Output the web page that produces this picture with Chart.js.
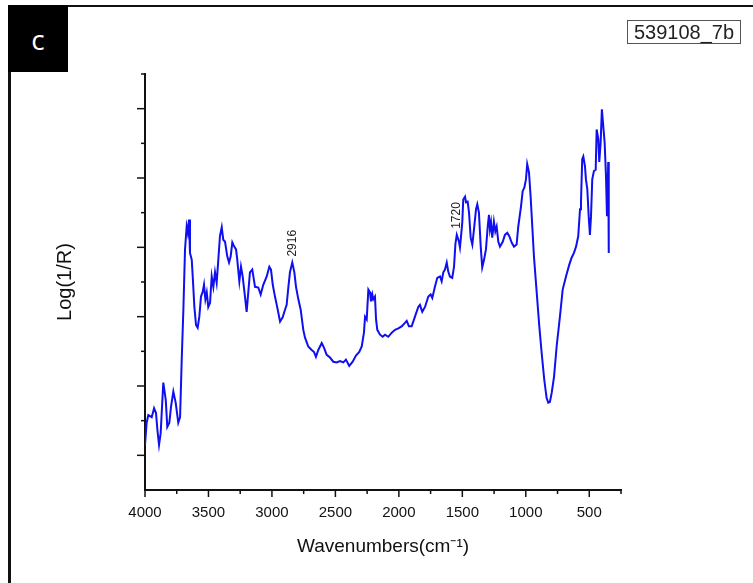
<!DOCTYPE html>
<html lang="en">
<head>
<meta charset="UTF-8">
<title>539108_7b</title>
<script src="https://cdn.jsdelivr.net/npm/chart.js"></script>
<style>
  body { margin: 0; background: #fff; }
  #wrap { position: relative; width: 753px; height: 583px; overflow: hidden; }
  #frame {
    position: absolute; left: 8px; top: 5px; width: 800px; height: 640px;
    border-top: 2px solid #111; border-left: 3px solid #111;
  }
  #panel {
    position: absolute; left: 8px; top: 5px; width: 60px; height: 67px;
    background: #000; color: #fff; font: 28px "Open Sans", sans-serif;
    display: flex; align-items: center; justify-content: center;
  }
  #sample {
    position: absolute; left: 627px; top: 20px; width: 112px; height: 22px;
    border: 1px solid #555; color: #222; text-align: center;
    font: 20px "Liberation Sans", Arial, sans-serif; line-height: 22px;
  }
  canvas { position: absolute; left: 0; top: 0; }
</style>
</head>
<body>
<div id="wrap">
  <canvas id="spectrum" width="753" height="583"></canvas>
  <div id="frame"></div>
  <div id="panel">c</div>
  <div id="sample">539108_7b</div>
</div>
<script>
// reflectance spectrum, wavenumber (cm-1) vs log(1/R)
const wavenumber = [
  3987, 3975, 3963, 3938, 3921, 3907, 3897, 3885, 3873, 3854,
  3836, 3825, 3810, 3798, 3781, 3764, 3745, 3732, 3720, 3708,
  3696, 3684, 3676, 3667, 3660, 3647, 3640, 3628, 3616, 3604,
  3592, 3580, 3567, 3558, 3548, 3538, 3527, 3514, 3502, 3490,
  3478, 3466, 3454, 3442, 3429, 3418, 3405, 3389, 3376, 3364,
  3352, 3338, 3325, 3316, 3301, 3289, 3277, 3260, 3248, 3236,
  3224, 3207, 3187, 3163, 3146, 3127, 3102, 3083, 3071, 3058,
  3042, 3029, 3005, 2986, 2969, 2957, 2945, 2933, 2916, 2901,
  2889, 2872, 2855, 2836, 2824, 2800, 2775, 2758, 2744, 2727,
  2702, 2685, 2666, 2642, 2618, 2593, 2569, 2545, 2526, 2502,
  2477, 2453, 2429, 2411, 2395, 2387, 2375, 2363, 2351, 2344,
  2334, 2327, 2315, 2307, 2298, 2278, 2259, 2242, 2218, 2193,
  2169, 2145, 2121, 2097, 2084, 2068, 2048, 2024, 2000, 1988,
  1971, 1951, 1927, 1910, 1898, 1879, 1862, 1842, 1830, 1818,
  1806, 1793, 1782, 1770, 1753, 1740, 1730, 1720, 1704, 1697,
  1690, 1680, 1673, 1660, 1653, 1641, 1631, 1619, 1607, 1595,
  1580, 1571, 1559, 1546, 1535, 1522, 1508, 1495, 1486, 1479,
  1471, 1462, 1450, 1440, 1430, 1418, 1406, 1386, 1370, 1353,
  1338, 1321, 1304, 1285, 1273, 1253, 1241, 1229, 1217, 1208,
  1195, 1183, 1171, 1159, 1139, 1120, 1103, 1084, 1067, 1055,
  1043, 1030, 1013, 994, 970, 950, 926, 902, 885, 868,
  853, 837, 824, 817, 808, 800, 788, 781, 771, 761,
  752, 744, 735, 723, 710, 703, 691, 684, 674, 665,
  655, 645, 635, 628, 623, 619, 615
];
const logInvR = [
  0.115, 0.147, 0.158, 0.155, 0.168, 0.161, 0.137, 0.115, 0.132, 0.205,
  0.180, 0.141, 0.147, 0.170, 0.192, 0.176, 0.147, 0.155, 0.238, 0.310,
  0.397, 0.430, 0.421, 0.440, 0.392, 0.382, 0.358, 0.314, 0.288, 0.284,
  0.300, 0.329, 0.336, 0.346, 0.325, 0.335, 0.314, 0.320, 0.358, 0.343,
  0.364, 0.349, 0.382, 0.416, 0.429, 0.411, 0.408, 0.387, 0.378, 0.387,
  0.407, 0.401, 0.397, 0.382, 0.351, 0.372, 0.358, 0.329, 0.307, 0.335,
  0.364, 0.368, 0.343, 0.342, 0.332, 0.346, 0.358, 0.372, 0.368, 0.346,
  0.329, 0.317, 0.293, 0.299, 0.310, 0.317, 0.342, 0.364, 0.378, 0.364,
  0.343, 0.325, 0.310, 0.281, 0.270, 0.257, 0.252, 0.249, 0.242, 0.252,
  0.262, 0.255, 0.245, 0.241, 0.235, 0.234, 0.236, 0.234, 0.238, 0.229,
  0.235, 0.244, 0.249, 0.257, 0.277, 0.300, 0.296, 0.339, 0.335, 0.322,
  0.332, 0.325, 0.329, 0.296, 0.281, 0.274, 0.271, 0.274, 0.271, 0.277,
  0.281, 0.283, 0.286, 0.291, 0.294, 0.286, 0.286, 0.300, 0.314, 0.317,
  0.307, 0.314, 0.329, 0.332, 0.327, 0.343, 0.356, 0.358, 0.351, 0.364,
  0.368, 0.378, 0.365, 0.358, 0.356, 0.372, 0.405, 0.418, 0.408, 0.400,
  0.414, 0.436, 0.469, 0.473, 0.465, 0.466, 0.450, 0.414, 0.404, 0.426,
  0.455, 0.462, 0.450, 0.401, 0.371, 0.382, 0.397, 0.430, 0.447, 0.426,
  0.436, 0.414, 0.437, 0.423, 0.430, 0.408, 0.401, 0.408, 0.418, 0.421,
  0.416, 0.407, 0.401, 0.404, 0.430, 0.459, 0.481, 0.486, 0.498, 0.520,
  0.508, 0.473, 0.430, 0.387, 0.335, 0.286, 0.248, 0.209, 0.183, 0.176,
  0.177, 0.190, 0.213, 0.257, 0.300, 0.339, 0.358, 0.375, 0.385, 0.392,
  0.401, 0.416, 0.455, 0.465, 0.527, 0.531, 0.517, 0.498, 0.484, 0.445,
  0.418, 0.445, 0.498, 0.510, 0.512, 0.570, 0.556, 0.523, 0.551, 0.599,
  0.575, 0.551, 0.502, 0.445, 0.479, 0.523, 0.392
];
const axisTicks = [4000, 3500, 3000, 2500, 2000, 1500, 1000, 500];
const peakLabels = [2916, 1720];

const font = '"Liberation Sans", Arial, sans-serif';

// tick marks (long on labelled values, short in between) and the peak tags
const axisMarks = {
  id: 'axisMarks',
  afterDraw(chart) {
    const { ctx, chartArea, scales } = chart;
    ctx.save();
    ctx.strokeStyle = '#111';
    ctx.lineWidth = 1.5;
    scales.x.ticks.forEach(t => {
      const px = scales.x.getPixelForValue(t.value);
      const len = t.value % 500 === 0 ? 7 : 4;
      ctx.beginPath();
      ctx.moveTo(px, chartArea.bottom);
      ctx.lineTo(px, chartArea.bottom + len);
      ctx.stroke();
    });
    scales.y.ticks.forEach(t => {
      if (t.value < 0.07) return;
      const py = scales.y.getPixelForValue(t.value);
      const major = Math.abs(t.value * 10 - Math.round(t.value * 10)) < 1e-6;
      ctx.beginPath();
      ctx.moveTo(chartArea.left, py);
      ctx.lineTo(chartArea.left - (major ? 8 : 4), py);
      ctx.stroke();
    });

    ctx.fillStyle = '#222';
    ctx.font = '12px ' + font;
    ctx.textAlign = 'left';
    ctx.textBaseline = 'middle';
    peakLabels.forEach(wn => {
      const i = wavenumber.indexOf(wn);
      const px = scales.xd.getPixelForValue(wn);
      const py = scales.y.getPixelForValue(logInvR[i]) - 6;
      ctx.save();
      ctx.translate(px, py);
      ctx.rotate(-Math.PI / 2);
      ctx.fillText(String(wn), 0, 0);
      ctx.restore();
    });
    ctx.restore();
  }
};

new Chart(document.getElementById('spectrum'), {
  type: 'line',
  data: {
    datasets: [{
      data: wavenumber.map((w, i) => ({ x: w, y: logInvR[i] })),
      xAxisID: 'xd',
      borderColor: 'rgb(15, 15, 240)',
      borderWidth: 2,
      pointRadius: 0,
      tension: 0
    }]
  },
  options: {
    responsive: false,
    animation: false,
    layout: { padding: { left: 53, top: 74, right: 132, bottom: 0 } },
    plugins: { legend: { display: false }, tooltip: { enabled: false } },
    scales: {
      x: {
        type: 'linear',
        position: 'bottom',
        min: 250,
        max: 4000,
        reverse: true,
        ticks: {
          stepSize: 250,
          autoSkip: false,
          maxRotation: 0,
          padding: 14,
          color: '#111',
          font: { family: font, size: 15 },
          callback: v => axisTicks.includes(v) ? String(v) : ''
        },
        grid: { display: false, drawTicks: false },
        border: { display: true, color: '#111', width: 2 },
        title: {
          display: true,
          text: 'Wavenumbers(cm⁻¹)',
          color: '#111',
          font: { family: font, size: 19 },
          padding: { top: 0, bottom: 25 }
        },
        afterFit: s => { s.height = 93; }
      },
      // the spectrum sits on its own wavenumber scale, offset from the printed axis
      xd: {
        type: 'linear',
        display: false,
        min: 526,
        max: 3987,
        reverse: true
      },
      y: {
        min: 0.05,
        max: 0.65,
        ticks: { display: false, stepSize: 0.05 },
        grid: { display: false, drawTicks: false },
        border: { display: true, color: '#111', width: 2 },
        title: {
          display: true,
          text: 'Log(1/R)',
          color: '#111',
          font: { family: font, size: 20 },
          padding: { top: 0, bottom: 0 }
        },
        afterFit: s => { s.width = 92; }
      }
    }
  },
  plugins: [axisMarks]
});
</script>
</body>
</html>
